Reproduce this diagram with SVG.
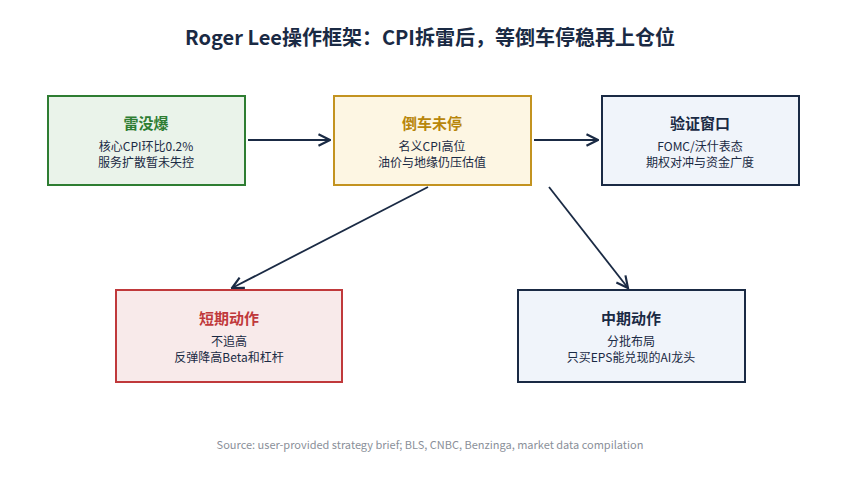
<svg xmlns="http://www.w3.org/2000/svg" width="860" height="487" viewBox="0 0 860 487">
<style>
text{font-family:"Noto Sans CJK SC","Noto Sans",sans-serif;text-anchor:middle}
.t{font-size:20px;font-weight:bold;fill:#1a2a44}
.h{font-size:15px;font-weight:bold}
.b{font-size:12px;fill:#1a2a44}
.c{stroke:#1a2a44;stroke-width:1.8;fill:none;marker-end:url(#a)}
.s{font-size:11px;fill:#8a8f99}
</style>
<defs><marker id="a" viewBox="0 0 10 10" refX="9" refY="5" markerWidth="8" markerHeight="8" orient="auto"><path d="M1,1L9,5L1,9" fill="none" stroke="#1a2a44" stroke-width="1.5"/></marker></defs>
<rect width="860" height="487" fill="#fff"/>
<text class="t" x="430" y="45">Roger Lee操作框架：CPI拆雷后，等倒车停稳再上仓位</text>
<g id="connectors">
<line class="c" x1="248" y1="140" x2="330" y2="140"/>
<line class="c" x1="534" y1="140" x2="598" y2="140"/>
<line class="c" x1="428" y1="187" x2="232" y2="288"/>
<line class="c" x1="549" y1="187" x2="628" y2="288"/>
</g>
<g id="n1"><rect x="48" y="96" width="197" height="89" fill="#eaf3ea" stroke="#2e7d32" stroke-width="2"/>
<text class="h" x="146" y="129" fill="#2e7d32">雷没爆</text><text class="b" x="146" y="151">核心CPI环比0.2%</text><text class="b" x="146" y="167">服务扩散暂未失控</text></g>
<g id="n2"><rect x="334" y="96" width="197" height="89" fill="#fdf6e3" stroke="#c39320" stroke-width="2"/>
<text class="h" x="432" y="129" fill="#b8860b">倒车未停</text><text class="b" x="432" y="151">名义CPI高位</text><text class="b" x="432" y="167">油价与地缘仍压估值</text></g>
<g id="n3"><rect x="602" y="96" width="197" height="89" fill="#f0f4fa" stroke="#1a2a44" stroke-width="2"/>
<text class="h" x="700" y="129" fill="#1a2a44">验证窗口</text><text class="b" x="700" y="151">FOMC/沃什表态</text><text class="b" x="700" y="167">期权对冲与资金广度</text></g>
<g id="n4"><rect x="116" y="290" width="226" height="92" fill="#f8eaea" stroke="#c0393b" stroke-width="2"/>
<text class="h" x="229" y="324" fill="#c0393b">短期动作</text><text class="b" x="229" y="346">不追高</text><text class="b" x="229" y="362">反弹降高Beta和杠杆</text></g>
<g id="n5"><rect x="518" y="290" width="227" height="92" fill="#f0f4fa" stroke="#1a2a44" stroke-width="2"/>
<text class="h" x="631" y="324" fill="#1a2a44">中期动作</text><text class="b" x="631" y="346">分批布局</text><text class="b" x="631" y="362">只买EPS能兑现的AI龙头</text></g>
<text class="s" x="430" y="449">Source: user-provided strategy brief; BLS, CNBC, Benzinga, market data compilation</text>
</svg>
